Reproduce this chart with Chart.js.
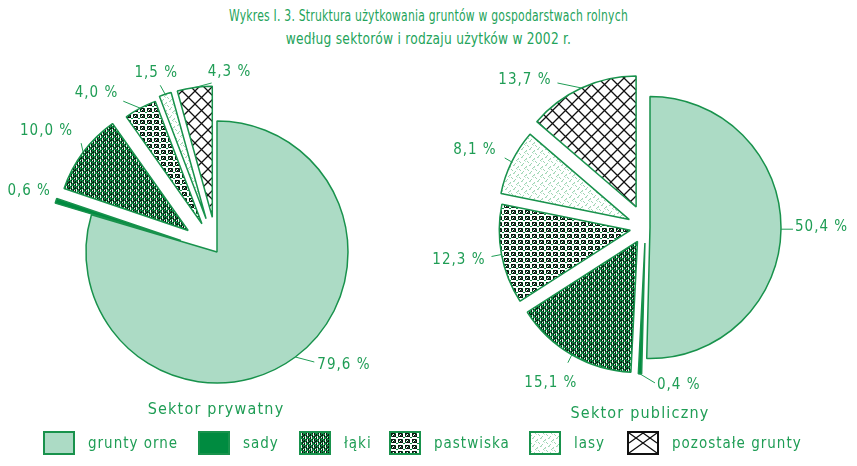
<!DOCTYPE html>
<html>
<head>
<meta charset="utf-8">
<script src="https://cdn.jsdelivr.net/npm/chart.js@4/dist/chart.umd.min.js"></script>
<style>
  body { margin: 0; background: #fff; }
  #page { position: relative; width: 857px; height: 466px; overflow: hidden;
          font-family: "Liberation Sans Narrow", "DejaVu Sans Condensed", "Liberation Sans", sans-serif; color: #1f9d55; }
  canvas.pie { position: absolute; left: 0; top: 0; }
  #title { position: absolute; left: 0; top: 4px; width: 857px; text-align: center;
           font-size: 16px; line-height: 23px; letter-spacing: 0.3px; color: #23a35a; }
  #title span { display: block; transform-origin: center; }
  .sector { position: absolute; font-size: 16px; letter-spacing: 1.2px; text-align: center; width: 220px; }
  #legend { position: absolute; left: 0; top: 431px; width: 857px; height: 25px;
            font-size: 15px; letter-spacing: 1px; white-space: nowrap; }
  .sw { position: absolute; top: 0; width: 28px; height: 20px; border: 2px solid #18924c; }
  .lt { position: absolute; top: 2px; line-height: 20px; }
</style>
</head>
<body>
<div id="page">
  <div id="title"><span style="transform:scaleX(0.75)">Wykres I. 3. Struktura użytkowania gruntów w gospodarstwach rolnych</span><span style="transform:scaleX(0.85)">według sektorów i rodzaju użytków w 2002 r.</span></div>
  <canvas id="pieLeft" class="pie" width="857" height="466"></canvas>
  <canvas id="pieRight" class="pie" width="857" height="466"></canvas>
  <div class="sector" id="secLeft" style="left:106px; top:399px;"></div>
  <div class="sector" id="secRight" style="left:530px; top:403px;"></div>
  <div id="legend"></div>
</div>
<script>
// Wykres I.3 – struktura użytkowania gruntów, 2002

const categories    = ["grunty orne", "sady", "łąki", "pastwiska", "lasy", "pozostałe grunty"];
const privateValues = [79.6, 0.6, 10.0, 4.0, 1.5, 4.3];
const publicValues  = [50.4, 0.4, 15.1, 12.3, 8.1, 13.7];
const sectorNames   = ["Sektor prywatny", "Sektor publiczny"];

const GREEN  = "#18924c";
const TEXT   = "#1f9d55";
const MINT   = "#acdbc5";
const DARK   = "#008b40";
const RADIUS = 131;

document.getElementById("secLeft").textContent  = sectorNames[0];
document.getElementById("secRight").textContent = sectorNames[1];

// ── patterns ──
function tile(w, h, paint) {
    const c = document.createElement("canvas");
    c.width = w; c.height = h;
    const g = c.getContext("2d");
    paint(g);
    return c;
}
function px(g, color, cells) {
    g.fillStyle = color;
    cells.forEach(function (p) { g.fillRect(p[0], p[1], p[2] || 1, p[3] || 1); });
}

const meadowTile = tile(6, 6, function (g) {
    g.fillStyle = "#0f8a43"; g.fillRect(0, 0, 6, 6);
    px(g, "#eaf6ee", [[0,0,1,3],[4,3,1,3],[2,4,1,1]]);
    px(g, "#111", [[1,0],[1,1],[1,3],[1,4],[3,1],[3,2],[3,4],[3,5],[5,0],[5,2],[5,3],[2,2]]);
});
const pastureTile = tile(7, 6, function (g) {
    g.fillStyle = "#fff"; g.fillRect(0, 0, 7, 6);
    px(g, "#111", [[0,0,5,4]]);
    px(g, "#0f8a43", [[1,1],[3,2],[4,0],[0,3],[5,4,2,1]]);
    px(g, "#fff", [[2,1],[1,2]]);
});
const forestTile = tile(8, 8, function (g) {
    g.fillStyle = "#fff"; g.fillRect(0, 0, 8, 8);
    px(g, "#9fd6b4", [[1,5],[2,4],[3,3],[5,7],[6,6],[7,1],[0,2],[4,0]]);
    px(g, "#c9ead6", [[2,5],[6,7],[5,1]]);
});
const otherTile = tile(13, 13, function (g) {
    g.fillStyle = "#fff"; g.fillRect(0, 0, 13, 13);
    g.strokeStyle = "#111"; g.lineWidth = 1.3;
    g.beginPath();
    g.moveTo(-1, -1); g.lineTo(14, 14);
    g.moveTo(14, -1); g.lineTo(-1, 14);
    g.stroke();
});

function fillsFor(ctx) {
    return [
        MINT,
        DARK,
        ctx.createPattern(meadowTile, "repeat"),
        ctx.createPattern(pastureTile, "repeat"),
        ctx.createPattern(forestTile, "repeat"),
        ctx.createPattern(otherTile, "repeat")
    ];
}

// ── style: explosion of each slice and label placement (relative to slice outer mid-point) ──
const PRIV_EXPLODE = [0, 38, 36, 32, 35, 35];
const PUB_EXPLODE  = [4.5, 15.5, 16, 15.5, 18, 22.5];
// [leaderDx, leaderDy, textDx, textDy, align]
const PRIV_PLACE = [
    [19, 5, 22, 8, "left"],
    [0, 0, -5, -10, "right"],
    [-2, -9, -10, -21, "right"],
    [-17, -7, -22, -15, "right"],
    [-5, -9, -9, -21, "center"],
    [17, -4.5, 13, -15, "left"]
];
const PUB_PLACE = [
    [12, 0, 14, -2, "left"],
    [15, 9, 17, 11, "left"],
    [-4, 8, -21, 28, "center"],
    [-10, 2, -16, 6, "right"],
    [-7, -4, -15, -12, "right"],
    [-24, -5, -30, -8, "right"]
];
const LEGEND_X = [43, 198, 299, 389, 529, 627];

function pct(v) { return v.toFixed(1).replace(".", ",") + " %"; }

const explodePlugin = {
    id: "explode",
    afterDatasetUpdate: function (chart, args, opts) {
        args.meta.data.forEach(function (arc, i) {
            const mid = (arc.startAngle + arc.endAngle) / 2;
            arc.x += Math.cos(mid) * opts.dist[i];
            arc.y += Math.sin(mid) * opts.dist[i];
        });
    }
};

const labelPlugin = {
    id: "pieLabels",
    afterDatasetsDraw: function (chart, args, opts) {
        const ctx = chart.ctx;
        const values = chart.data.datasets[0].data;
        ctx.save();
        ctx.strokeStyle = TEXT;
        ctx.fillStyle = TEXT;
        ctx.lineWidth = 1;
        ctx.font = '15px "Liberation Sans Narrow", "DejaVu Sans Condensed", "Liberation Sans", sans-serif';
        ctx.textBaseline = "middle";
        if ("letterSpacing" in ctx) ctx.letterSpacing = "1px";
        chart.getDatasetMeta(0).data.forEach(function (arc, i) {
            const mid = (arc.startAngle + arc.endAngle) / 2;
            const ax = arc.x + Math.cos(mid) * arc.outerRadius;
            const ay = arc.y + Math.sin(mid) * arc.outerRadius;
            const p = opts.place[i];
            if (p[0] || p[1]) {
                ctx.beginPath();
                ctx.moveTo(ax, ay);
                ctx.lineTo(ax + p[0], ay + p[1]);
                ctx.stroke();
            }
            ctx.textAlign = p[4];
            ctx.fillText(pct(values[i]), ax + p[2], ay + p[3]);
        });
        ctx.restore();
    }
};

function makePie(id, values, explode, place, padding) {
    const canvas = document.getElementById(id);
    return new Chart(canvas, {
        type: "pie",
        data: {
            labels: categories,
            datasets: [{
                data: values,
                backgroundColor: fillsFor(canvas.getContext("2d")),
                borderColor: GREEN,
                borderWidth: 1.5,
                radius: RADIUS
            }]
        },
        options: {
            responsive: false,
            animation: false,
            events: [],
            radius: RADIUS,
            layout: { padding: padding },
            plugins: {
                legend: { display: false },
                tooltip: { enabled: false },
                explode: { dist: explode },
                pieLabels: { place: place }
            }
        },
        plugins: [explodePlugin, labelPlugin]
    });
}

makePie("pieLeft",  privateValues, PRIV_EXPLODE, PRIV_PLACE, { left: 0, right: 423, top: 38, bottom: 0 });
makePie("pieRight", publicValues,  PUB_EXPLODE,  PUB_PLACE,  { left: 434, right: 0, top: 0, bottom: 11 });

// ── legend ──
const swatchTiles = [null, null, meadowTile, pastureTile, forestTile, null];
const legend = document.getElementById("legend");
categories.forEach(function (name, i) {
    const sw = document.createElement("div");
    sw.className = "sw";
    sw.style.left = LEGEND_X[i] + "px";
    if (i === 0) sw.style.background = MINT;
    else if (i === 1) sw.style.background = DARK;
    else if (i === 5) {
        sw.style.borderColor = "#111";
        sw.style.background = "#fff url(" + tile(28, 20, function (g) {
            g.strokeStyle = "#111"; g.lineWidth = 1.3; g.beginPath();
            g.moveTo(0, 0); g.lineTo(28, 20); g.moveTo(28, 0); g.lineTo(0, 20);
            g.moveTo(14, 0); g.lineTo(0, 10); g.moveTo(14, 0); g.lineTo(28, 10);
            g.stroke();
        }).toDataURL() + ")";
    } else sw.style.backgroundImage = "url(" + swatchTiles[i].toDataURL() + ")";
    const label = document.createElement("span");
    label.className = "lt";
    label.style.left = (LEGEND_X[i] + 45) + "px";
    label.textContent = name;
    legend.appendChild(sw);
    legend.appendChild(label);
});
</script>
</body>
</html>
